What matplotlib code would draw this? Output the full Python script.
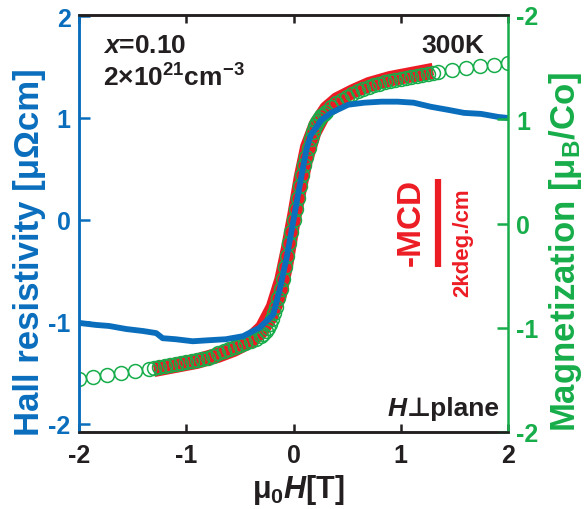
import matplotlib
matplotlib.use("Agg")
import matplotlib.pyplot as plt

plt.rcParams['font.family'] = ['Liberation Sans', 'DejaVu Sans']
plt.rcParams['font.weight'] = 'bold'
plt.rcParams['axes.unicode_minus'] = False
plt.rcParams['mathtext.fontset'] = 'custom'
plt.rcParams['mathtext.rm'] = 'Liberation Sans:bold'
plt.rcParams['mathtext.it'] = 'Liberation Sans:italic:bold'
plt.rcParams['mathtext.bf'] = 'Liberation Sans:bold'

BLUE = '#0a6ebd'
GREEN = '#17ad4a'
RED = '#ec1c24'
DARK = '#231f20'

# Hall resistivity (blue)
hall_H = [-2.00, -1.84, -1.72, -1.56, -1.40, -1.28, -1.22, -1.10, -0.94, -0.79, -0.63,
          -0.47, -0.36, -0.32, -0.19, -0.13, -0.06, 0.00, 0.06, 0.12, 0.16, 0.26, 0.35,
          0.45, 0.51, 0.66, 0.82, 0.97, 1.12, 1.28, 1.44, 1.59, 1.75, 1.91, 2.00]
hall_rho = [-1.01, -1.03, -1.04, -1.07, -1.09, -1.11, -1.16, -1.17, -1.19, -1.18, -1.17,
            -1.14, -1.08, -1.06, -0.93, -0.69, -0.35, 0.00, 0.35, 0.69, 0.83, 0.98, 1.05,
            1.10, 1.13, 1.15, 1.16, 1.16, 1.15, 1.11, 1.08, 1.05, 1.04, 1.01, 1.00]

# MCD (red), two sweep branches
mcd_H = [-1.30, -1.10, -0.90, -0.70, -0.55, -0.40, -0.30, -0.20, -0.12, -0.06, 0.00,
         0.06, 0.12, 0.20, 0.30, 0.40, 0.55, 0.70, 0.90, 1.10, 1.30]
mcd_up = [-1.48, -1.44, -1.40, -1.34, -1.28, -1.20, -1.11, -0.95, -0.74, -0.44, -0.06,
          0.27, 0.57, 0.85, 1.05, 1.15, 1.25, 1.31, 1.37, 1.41, 1.44]
mcd_down = [-1.45, -1.41, -1.37, -1.31, -1.25, -1.15, -1.05, -0.85, -0.58, -0.28, 0.05,
            0.42, 0.72, 0.94, 1.10, 1.19, 1.27, 1.34, 1.40, 1.44, 1.48]

# Magnetization (green circles)
mag_H = [-2.00, -1.87, -1.74, -1.61, -1.48, -1.35, -1.30, -1.25, -1.20, -1.15, -1.10,
         -1.05, -1.00, -0.95, -0.90, -0.85, -0.80, -0.75, -0.70, -0.65, -0.60, -0.55,
         -0.50, -0.45, -0.40, -0.35,
         -0.30, -0.28, -0.26, -0.24, -0.22, -0.20, -0.18, -0.16, -0.14, -0.12, -0.10,
         -0.08, -0.06, -0.04, -0.02, 0.00, 0.02, 0.04, 0.06, 0.08, 0.10, 0.12, 0.14,
         0.16, 0.18, 0.20, 0.22, 0.24, 0.26, 0.28, 0.30,
         0.35, 0.40, 0.45, 0.50, 0.55, 0.60, 0.65, 0.70, 0.75, 0.80, 0.85, 0.90, 0.95,
         1.00, 1.05, 1.10, 1.15, 1.20, 1.25, 1.30, 1.35, 1.48, 1.61, 1.74, 1.87, 2.00]
mag_M = [-1.56, -1.54, -1.52, -1.50, -1.48, -1.46, -1.45, -1.44, -1.43, -1.42, -1.41,
         -1.40, -1.39, -1.38, -1.37, -1.36, -1.35, -1.33, -1.31, -1.29, -1.27, -1.25,
         -1.23, -1.21, -1.19, -1.17,
         -1.14, -1.12, -1.09, -1.06, -1.02, -0.97, -0.91, -0.85, -0.77, -0.68, -0.58,
         -0.46, -0.35, -0.23, -0.12, 0.00, 0.11, 0.22, 0.33, 0.44, 0.54, 0.62, 0.71,
         0.79, 0.86, 0.92, 0.96, 0.99, 1.02, 1.04, 1.06,
         1.11, 1.15, 1.18, 1.21, 1.24, 1.26, 1.28, 1.30, 1.32, 1.33, 1.35, 1.36, 1.37,
         1.38, 1.39, 1.40, 1.41, 1.42, 1.43, 1.44, 1.45, 1.47, 1.49, 1.51, 1.52, 1.54]

x_ticks = [-2, -1, 0, 1, 2]
left_ticks = [-2, -1, 0, 1, 2]
right_ticks = [-2, -1, 0, 1, 2]
right_ticklabels = ['-2', '-1', '0', '1', '-2']

fig = plt.figure(figsize=(5.86, 5.10), dpi=100)
ax = fig.add_axes([79/586, 1-433/510, (508-79)/586, (433-16)/510])
ax2 = ax.twinx()

ax.set_xlim(-2, 2)
ax.set_ylim(-2.08, 2.01)
ax2.set_ylim(-2.0, 2.0)

for br in (mcd_up, mcd_down):
    ax.plot(mcd_H, br, color=RED, lw=9, solid_capstyle='butt', zorder=2)
ax.plot(mag_H, mag_M, linestyle='none', marker='o', markersize=10, markerfacecolor='none',
        markeredgecolor=GREEN, markeredgewidth=1.1, zorder=3)
ax.plot(hall_H, hall_rho, color=BLUE, lw=4.2, zorder=4)

ax.set_xticks(x_ticks)
ax.set_xticklabels([str(t) for t in x_ticks])
ax.set_yticks(left_ticks)
ax.set_yticklabels([str(t) for t in left_ticks])
ax2.set_yticks(right_ticks)
ax2.set_yticklabels(right_ticklabels)

ax.tick_params(axis='x', direction='in', length=6, width=1.8, colors=DARK, labelsize=18,
               pad=8, top=True)
ax.tick_params(axis='y', direction='in', length=8, width=1.8, colors=BLUE, labelsize=18, pad=6)
ax2.tick_params(axis='y', direction='in', length=8, width=1.8, colors=GREEN, labelsize=18, pad=6)

for a in (ax, ax2):
    for s in a.spines.values():
        s.set_linewidth(1.8)
        s.set_color(DARK)
ax.spines['left'].set_color(BLUE)
ax2.spines['left'].set_color(BLUE)
ax2.spines['right'].set_color(GREEN)
ax.spines['right'].set_visible(False)

for lab in ax.get_xticklabels() + ax.get_yticklabels() + ax2.get_yticklabels():
    lab.set_fontweight('bold')

fig.text(30/586, 1-252/510, 'Hall resistivity [μΩcm]', rotation=90, color=BLUE,
         fontsize=25, fontweight='bold', ha='center', va='center')
fig.text(566/586, 1-252/510, 'Magnetization [μ$_\\mathrm{B}$/Co]', rotation=90, color=GREEN,
         fontsize=25, fontweight='bold', ha='center', va='center')
fig.text(298/586, 1-490/510, 'μ$_\\mathrm{0}$$\\mathit{H}$[T]', color=DARK,
         fontsize=22, fontweight='bold', ha='center', va='center')

ax.text(-1.78, 1.72, '$\\mathit{x}$=0.10', color=DARK, fontsize=19, fontweight='bold',
        ha='left', va='center', zorder=5)
ax.text(-1.78, 1.40, '2×10$^{21}$cm$^{-3}$', color=DARK, fontsize=19, fontweight='bold',
        ha='left', va='center', zorder=5)
ax.text(1.78, 1.72, '300K', color=DARK, fontsize=19, fontweight='bold',
        ha='right', va='center', zorder=5)
plane = ax.text(1.92, -1.84, '⊥plane', color=DARK, fontsize=19, fontweight='bold',
                ha='right', va='center', zorder=5)
ax.annotate('H', xy=(0, 0.5), xycoords=plane, color=DARK, fontsize=19, fontweight='bold',
            fontstyle='italic', ha='right', va='center', zorder=5)

ax.text(1.10, -0.01, '-MCD', color=RED, fontsize=24, fontweight='bold', rotation=90,
        ha='center', va='center', zorder=5)
ax.plot([1.35, 1.35], [0.40, -0.46], color=RED, lw=4.5, solid_capstyle='butt', zorder=5)
ax.text(1.58, -0.21, '2kdeg./cm', color=RED, fontsize=16, fontweight='bold', rotation=90,
        ha='center', va='center', zorder=5)

fig.savefig('out.png', dpi=100)
